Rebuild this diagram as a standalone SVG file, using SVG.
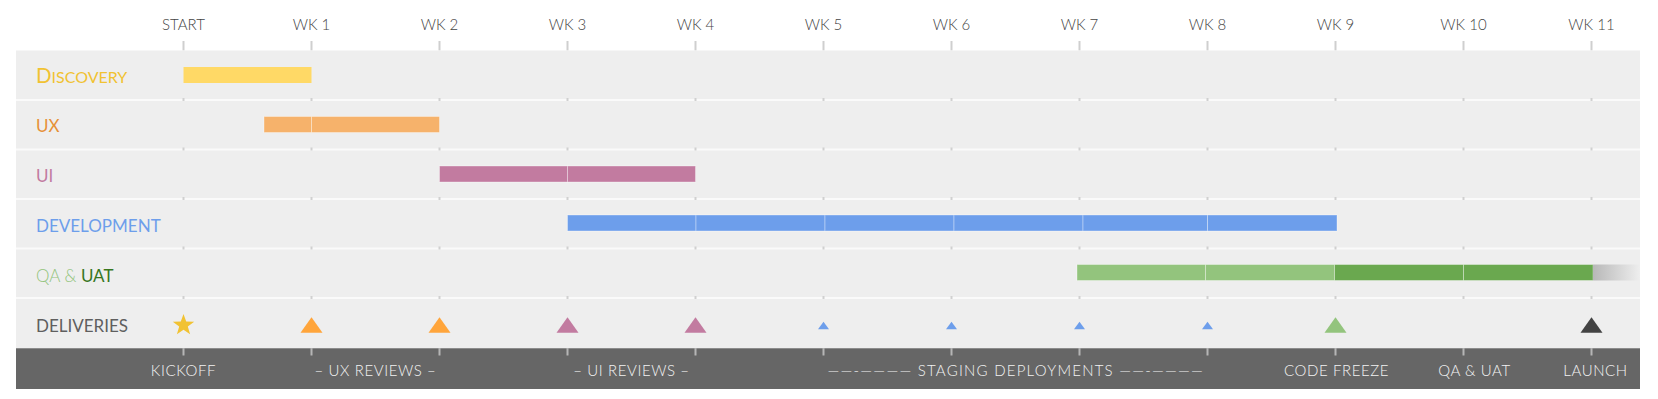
<svg xmlns="http://www.w3.org/2000/svg" width="1658" height="399" viewBox="0 0 1658 399">
<style>
text{font-family:Lato,"Open Sans","Liberation Sans",sans-serif;font-weight:300}
.hd{font-size:15px;fill:#444;text-anchor:middle}
.lb{font-size:17px;font-weight:400}
.bd{font-size:15px;fill:#f3f3f3;text-anchor:middle;letter-spacing:0.6px}
.htick{stroke:#cfcfcf;stroke-width:2}
.btick{stroke:#b5b5b5;stroke-width:2}
.sep{stroke:#fafafa;stroke-width:2}
.dot{stroke:#d0d0d0;stroke-width:2}
.seg{stroke:rgba(255,255,255,0.35);stroke-width:1}
</style>
<defs>
<linearGradient id="fade" x1="0" y1="0" x2="1" y2="0">
<stop offset="0" stop-color="#b8b8b8"/>
<stop offset="1" stop-color="#eeeeee"/>
</linearGradient>
</defs>
<rect width="1658" height="399" fill="#ffffff"/>

<g id="header">
<text class="hd" x="183.5" y="29.5">START</text>
<text class="hd" x="311.5" y="29.5">WK 1</text>
<text class="hd" x="439.5" y="29.5">WK 2</text>
<text class="hd" x="567.5" y="29.5">WK 3</text>
<text class="hd" x="695.5" y="29.5">WK 4</text>
<text class="hd" x="823.5" y="29.5">WK 5</text>
<text class="hd" x="951.5" y="29.5">WK 6</text>
<text class="hd" x="1079.5" y="29.5">WK 7</text>
<text class="hd" x="1207.5" y="29.5">WK 8</text>
<text class="hd" x="1335.5" y="29.5">WK 9</text>
<text class="hd" x="1463.5" y="29.5">WK 10</text>
<text class="hd" x="1591.5" y="29.5">WK 11</text>
<g class="htick">
<line x1="183.5" y1="41" x2="183.5" y2="50.5"/><line x1="311.5" y1="41" x2="311.5" y2="50.5"/>
<line x1="439.5" y1="41" x2="439.5" y2="50.5"/><line x1="567.5" y1="41" x2="567.5" y2="50.5"/>
<line x1="695.5" y1="41" x2="695.5" y2="50.5"/><line x1="823.5" y1="41" x2="823.5" y2="50.5"/>
<line x1="951.5" y1="41" x2="951.5" y2="50.5"/><line x1="1079.5" y1="41" x2="1079.5" y2="50.5"/>
<line x1="1207.5" y1="41" x2="1207.5" y2="50.5"/><line x1="1335.5" y1="41" x2="1335.5" y2="50.5"/>
<line x1="1463.5" y1="41" x2="1463.5" y2="50.5"/><line x1="1591.5" y1="41" x2="1591.5" y2="50.5"/>
</g>
</g>

<g id="panel">
<rect x="16" y="50.5" width="1624" height="297.5" fill="#eeeeee"/>
<g class="sep">
<line x1="16" y1="100" x2="1640" y2="100"/>
<line x1="16" y1="149.5" x2="1640" y2="149.5"/>
<line x1="16" y1="199" x2="1640" y2="199"/>
<line x1="16" y1="248.5" x2="1640" y2="248.5"/>
<line x1="16" y1="298" x2="1640" y2="298"/>
</g>
<g class="dot" id="gridmarks">
<path d="M183.5 98v3M311.5 98v3M439.5 98v3M567.5 98v3M695.5 98v3M823.5 98v3M951.5 98v3M1079.5 98v3M1207.5 98v3M1335.5 98v3M1463.5 98v3M1591.5 98v3"/>
<path d="M183.5 147.5v3M311.5 147.5v3M439.5 147.5v3M567.5 147.5v3M695.5 147.5v3M823.5 147.5v3M951.5 147.5v3M1079.5 147.5v3M1207.5 147.5v3M1335.5 147.5v3M1463.5 147.5v3M1591.5 147.5v3"/>
<path d="M183.5 197v3M311.5 197v3M439.5 197v3M567.5 197v3M695.5 197v3M823.5 197v3M951.5 197v3M1079.5 197v3M1207.5 197v3M1335.5 197v3M1463.5 197v3M1591.5 197v3"/>
<path d="M183.5 246.5v3M311.5 246.5v3M439.5 246.5v3M567.5 246.5v3M695.5 246.5v3M823.5 246.5v3M951.5 246.5v3M1079.5 246.5v3M1207.5 246.5v3M1335.5 246.5v3M1463.5 246.5v3M1591.5 246.5v3"/>
<path d="M183.5 296v3M311.5 296v3M439.5 296v3M567.5 296v3M695.5 296v3M823.5 296v3M951.5 296v3M1079.5 296v3M1207.5 296v3M1335.5 296v3M1463.5 296v3M1591.5 296v3"/>
</g>
</g>

<g id="row-discovery">
<text class="lb" x="36" y="83" fill="#f1c232"><tspan font-size="20.5">D</tspan><tspan font-size="16">ISCOVERY</tspan></text>
<rect x="183.5" y="67" width="128" height="16" fill="#ffd966"/>
</g>

<g id="row-ux">
<text class="lb" x="36" y="132.2" fill="#e69138">UX</text>
<rect class="seg" x="264" y="116.5" width="47.5" height="16" fill="#f6b26b"/>
<rect class="seg" x="311.5" y="116.5" width="128" height="16" fill="#f6b26b"/>
</g>

<g id="row-ui">
<text class="lb" x="36" y="181.7" fill="#c27ba0">UI</text>
<rect class="seg" x="439.5" y="166" width="128" height="16" fill="#c27ba0"/>
<rect class="seg" x="567.5" y="166" width="128" height="16" fill="#c27ba0"/>
</g>

<g id="row-development">
<text class="lb" x="36" y="231.5" fill="#6d9eeb">DEVELOPMENT</text>
<g fill="#6d9eeb" class="seg">
<rect x="567.5" y="215" width="128.5" height="16"/>
<rect x="696" y="215" width="129" height="16"/>
<rect x="825" y="215" width="129" height="16"/>
<rect x="954" y="215" width="129" height="16"/>
<rect x="1083" y="215" width="124.5" height="16"/>
<rect x="1207.5" y="215" width="129.5" height="16"/>
</g>
</g>

<g id="row-qa-uat">
<text class="lb" x="36" y="281.5"><tspan fill="#93c47d" font-weight="300">QA &amp; </tspan><tspan fill="#38761d">UAT</tspan></text>
<g class="seg">
<rect x="1077" y="264.5" width="128.5" height="16" fill="#93c47d"/>
<rect x="1205.5" y="264.5" width="129" height="16" fill="#93c47d"/>
<rect x="1334.5" y="264.5" width="129" height="16" fill="#6aa84f"/>
<rect x="1463.5" y="264.5" width="129.5" height="16" fill="#6aa84f"/>
</g>
<rect x="1593" y="264.5" width="47" height="16" fill="url(#fade)"/>
</g>

<g id="row-deliveries">
<text class="lb" x="36" y="332" fill="#5f5f5f">DELIVERIES</text>
<path id="kickoff-star" d="M183.5 314 L186.2 321.6 L194.2 321.8 L187.8 326.6 L190.1 334.3 L183.5 329.7 L176.9 334.3 L179.2 326.6 L172.8 321.8 L180.8 321.6 Z" fill="#f1c232"/>
<g id="ux-reviews" fill="#ffa53b">
<path d="M300.5 332.7 L311.5 317.3 L322.5 332.7 Z"/>
<path d="M428.5 332.7 L439.5 317.3 L450.5 332.7 Z"/>
</g>
<g id="ui-reviews" fill="#c27ba0">
<path d="M556.5 332.7 L567.5 317.3 L578.5 332.7 Z"/>
<path d="M684.5 332.7 L695.5 317.3 L706.5 332.7 Z"/>
</g>
<g id="staging" fill="#6d9eeb">
<path d="M818 329.3 L823.5 321.7 L829 329.3 Z"/>
<path d="M946 329.3 L951.5 321.7 L957 329.3 Z"/>
<path d="M1074 329.3 L1079.5 321.7 L1085 329.3 Z"/>
<path d="M1202 329.3 L1207.5 321.7 L1213 329.3 Z"/>
</g>
<path id="code-freeze" d="M1324.5 332.7 L1335.5 317.3 L1346.5 332.7 Z" fill="#93c47d"/>
<path id="launch" d="M1580.5 332.7 L1591.5 317.3 L1602.5 332.7 Z" fill="#434343"/>
</g>

<g id="band">
<rect x="16" y="348" width="1624" height="41" fill="#666666"/>
<line x1="16" y1="348.5" x2="1640" y2="348.5" stroke="#8c8c8c" stroke-width="1"/>
<g class="btick">
<path d="M183.5 348v7.5M311.5 348v7.5M439.5 348v7.5M567.5 348v7.5M695.5 348v7.5M823.5 348v7.5M951.5 348v7.5M1079.5 348v7.5M1207.5 348v7.5M1335.5 348v7.5M1463.5 348v7.5M1591.5 348v7.5"/>
</g>
<text class="bd" x="183.5" y="376">KICKOFF</text>
<text class="bd" x="375.5" y="376">– UX REVIEWS –</text>
<text class="bd" x="631.5" y="376">– UI REVIEWS –</text>
<text class="bd" x="1015.5" y="376" textLength="376">——-———— STAGING DEPLOYMENTS ——-————</text>
<text class="bd" x="1336.5" y="376">CODE FREEZE</text>
<text class="bd" x="1474.5" y="376">QA &amp; UAT</text>
<text class="bd" x="1595.5" y="376">LAUNCH</text>
</g>
</svg>
